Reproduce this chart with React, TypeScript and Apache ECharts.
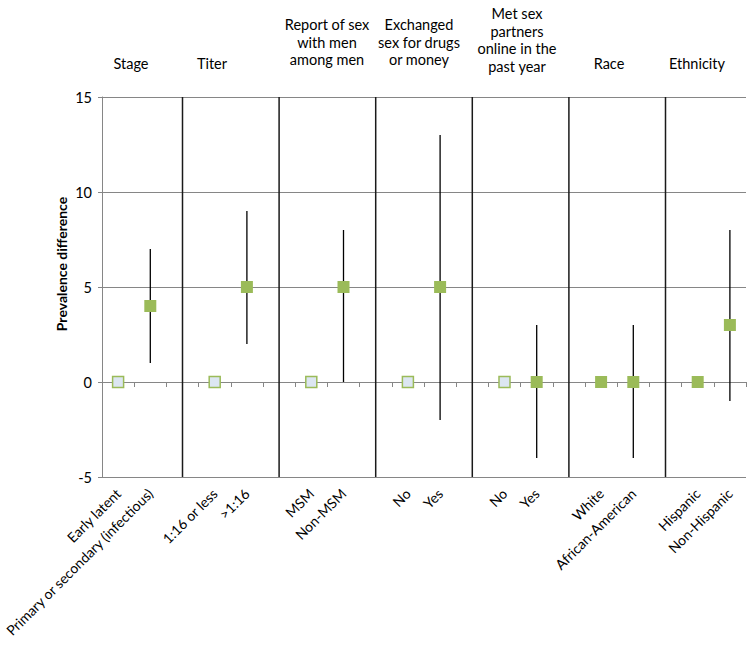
import React, { useEffect, useRef } from "react";
import * as echarts from "echarts";

// 20 category slots: 14 labelled points plus 6 separator slots
const categoryLabels = [
  "Early latent", "Primary or secondary (infectious)", "",
  "1:16 or less", ">1:16", "",
  "MSM", "Non-MSM", "",
  "No", "Yes", "",
  "No", "Yes", "",
  "White", "African-American", "",
  "Hispanic", "Non-Hispanic",
];
const separatorSlots = [2, 5, 8, 11, 14, 17];

// reference groups (open markers)
const referenceSlots = [0, 3, 6, 9, 12];
const referenceValues = [0, 0, 0, 0, 0];

// estimates (filled markers)
const estimateSlots = [1, 4, 7, 10, 13, 15, 16, 18, 19];
const estimateValues = [4, 5, 5, 5, 0, 0, 0, 0, 3];
const ciLow = [1, 2, 0, -2, -4, null, -4, null, -1];
const ciHigh = [7, 9, 8, 13, 3, null, 3, null, 8];

const groupTitles = [
  "Stage",
  "Titer",
  "Report of sex\nwith men\namong men",
  "Exchanged\nsex for drugs\nor money",
  "Met sex\npartners\nonline in the\npast year",
  "Race",
  "Ethnicity",
];
const groupTitleX = [131, 212, 327, 419, 517, 609, 697];
const groupTitleY = [63, 63, 42, 42, 40, 63, 63];

const yTicks = { min: -5, max: 15, interval: 5 };
const FONT = "Lato, 'Open Sans', sans-serif";

export default function App() {
  const ref = useRef<HTMLDivElement>(null);
  useEffect(() => {
    if (!ref.current) return;
    const chart = echarts.init(ref.current, null, { renderer: "svg" });
    const slots = categoryLabels.map((_, i) => String(i));

    const errData = estimateSlots
      .map((s, i) => [s, ciLow[i], ciHigh[i]])
      .filter((d) => d[1] !== null && d[2] !== null);

    chart.setOption({
      animation: false,
      textStyle: { fontFamily: FONT },
      grid: {
        left: 102,
        right: 8,
        top: 97,
        bottom: 168,
        containLabel: false,
        outerBoundsMode: "none",
      },
      xAxis: {
        type: "category",
        data: slots,
        boundaryGap: true,
        axisLine: { show: true, lineStyle: { color: "#868686", width: 1 } },
        axisTick: { show: true, interval: 0, length: 5, lineStyle: { color: "#868686" } },
        axisLabel: {
          interval: 0,
          rotate: 45,
          margin: 14,
          fontSize: 14,
          color: "#000",
          fontFamily: FONT,
          formatter: (v: string) => categoryLabels[Number(v)],
        },
        splitLine: { show: false },
      },
      yAxis: {
        type: "value",
        min: yTicks.min,
        max: yTicks.max,
        interval: yTicks.interval,
        axisLine: { show: true, lineStyle: { color: "#868686", width: 1 } },
        axisTick: { show: true, length: 4, lineStyle: { color: "#868686" } },
        axisLabel: { fontSize: 14.5, color: "#000", margin: 10, fontFamily: FONT },
        splitLine: { show: true, lineStyle: { color: "#868686", width: 1 } },
      },
      series: [
        {
          type: "custom",
          name: "separators",
          data: separatorSlots.map((s) => [s]),
          encode: { x: 0 },
          z: 1,
          renderItem: (params: any, api: any) => {
            const x = api.value(0);
            const p1 = api.coord([x, yTicks.max]);
            const p2 = api.coord([x, yTicks.min]);
            return {
              type: "line",
              shape: { x1: p1[0], y1: p1[1], x2: p2[0], y2: p2[1] },
              style: { stroke: "#1a1a1a", lineWidth: 1.5 },
            };
          },
        },
        {
          type: "custom",
          name: "ci",
          data: errData,
          encode: { x: 0, y: [1, 2] },
          z: 2,
          renderItem: (params: any, api: any) => {
            const x = api.value(0);
            const p1 = api.coord([x, api.value(1)]);
            const p2 = api.coord([x, api.value(2)]);
            return {
              type: "line",
              shape: { x1: p1[0], y1: p1[1], x2: p2[0], y2: p2[1] },
              style: { stroke: "#000", lineWidth: 1.3 },
            };
          },
        },
        {
          type: "scatter",
          name: "reference",
          symbol: "rect",
          symbolSize: 11,
          z: 3,
          data: referenceSlots.map((s, i) => [s, referenceValues[i]]),
          itemStyle: { color: "#dce6f2", borderColor: "#9bbb59", borderWidth: 1.5, opacity: 1 },
        },
        {
          type: "scatter",
          name: "estimate",
          symbol: "rect",
          symbolSize: 12,
          z: 3,
          data: estimateSlots.map((s, i) => [s, estimateValues[i]]),
          itemStyle: { color: "#9bbb59", opacity: 1 },
        },
      ],
      graphic: [
        ...groupTitles.map((t, i) => ({
          type: "text",
          x: groupTitleX[i],
          y: groupTitleY[i],
          style: {
            text: t,
            fontSize: 14.5,
            lineHeight: 17.5,
            fontFamily: FONT,
            fill: "#000",
            align: "center",
            verticalAlign: "middle",
          },
        })),
        {
          type: "text",
          x: 61,
          y: 264,
          rotation: Math.PI / 2,
          style: {
            text: "Prevalence difference",
            fontSize: 14,
            fontWeight: "bold",
            fontFamily: FONT,
            fill: "#000",
            align: "center",
            verticalAlign: "middle",
          },
        },
      ],
    });
    return () => chart.dispose();
  }, []);
  return (
    <div
      ref={ref}
      style={{ position: "absolute", left: 0, top: 0, width: 754, height: 645 }}
    />
  );
}
